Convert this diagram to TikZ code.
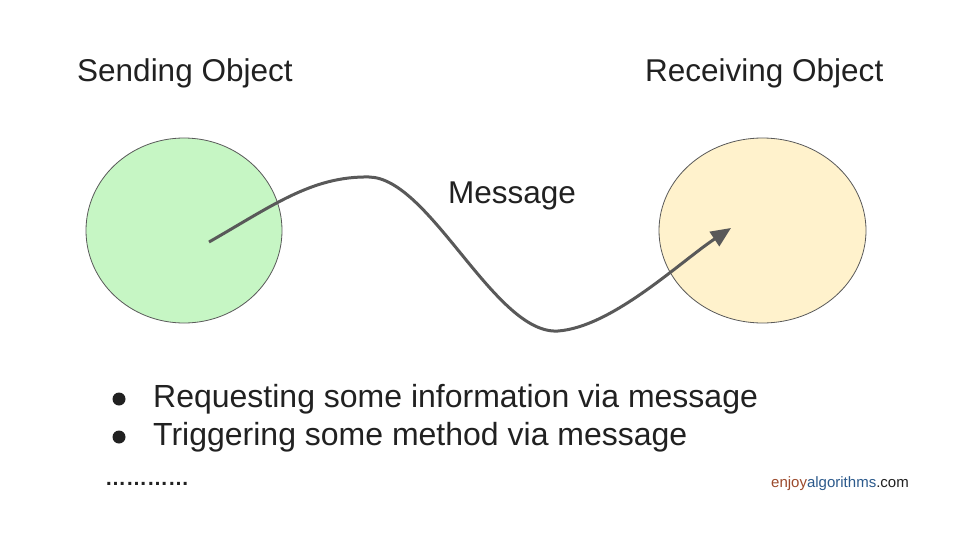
\documentclass[tikz,border=0pt]{standalone}
\usepackage{fontspec}
\setmainfont{Liberation Sans}
\usetikzlibrary{arrows.meta}
\definecolor{txt}{HTML}{212121}
\definecolor{lgreen}{HTML}{C6F6C4}
\definecolor{lyellow}{HTML}{FFF2CC}
\definecolor{edge}{HTML}{595959}
\definecolor{wire}{HTML}{595959}
\definecolor{enj}{HTML}{9C4A2C}
\definecolor{alg}{HTML}{2C5A8C}
\begin{document}
\begin{tikzpicture}[x=1pt,y=-1pt,
  title/.style={anchor=base west,inner sep=0pt,text=txt,font=\fontsize{31.5}{36}\selectfont},
  bullettext/.style={anchor=base west,inner sep=0pt,text=txt,font=\fontsize{32}{38}\selectfont},
  obj/.style={draw=edge,line width=0.8pt},
  msgwire/.style={draw=wire,line width=3pt,-{Triangle[length=20pt,width=17pt]}}]
\useasboundingbox[fill=white] (0,0) rectangle (960,540);
% objects
\path[obj,fill=lgreen] (184,230.5) ellipse [x radius=98,y radius=92.5];
\path[obj,fill=lyellow] (762.5,230.5) ellipse [x radius=103.5,y radius=92.5];
\node[title] (send) at (77,82) {Sending Object};
\node[title] (recv) at (645,82) {Receiving Object};
\node[title] (msg) at (448,203) {Message};
% message curve
\coordinate (s) at (209,242);
\coordinate (p) at (369,177);
\coordinate (q) at (558,331);
\coordinate (t) at (731,228);
\draw[msgwire] (s) .. controls (272,206) and (312,176) .. (p)
  .. controls (430,178) and (495,335) .. (q)
  .. controls (612,327) and (680,262) .. (t);
% bullets
\fill[txt] (119,399) circle (6.5) coordinate (b1);
\fill[txt] (119,437) circle (6.5) coordinate (b2);
\node[bullettext] (l1) at (153,407) {Requesting some information via message};
\node[bullettext] (l2) at (153,445) {Triggering some method via message};
\node[anchor=base west,inner sep=0pt,text=txt,font=\fontsize{21}{24}\selectfont\bfseries] (dots) at (105,485) {…………};
% logo
\node[anchor=base west,inner sep=0pt,font=\fontsize{15}{18}\selectfont] (logo) at (771,487) {\textcolor{enj}{enjoy}\textcolor{alg}{algorithms}\textcolor{txt}{.com}};
\end{tikzpicture}
\end{document}
